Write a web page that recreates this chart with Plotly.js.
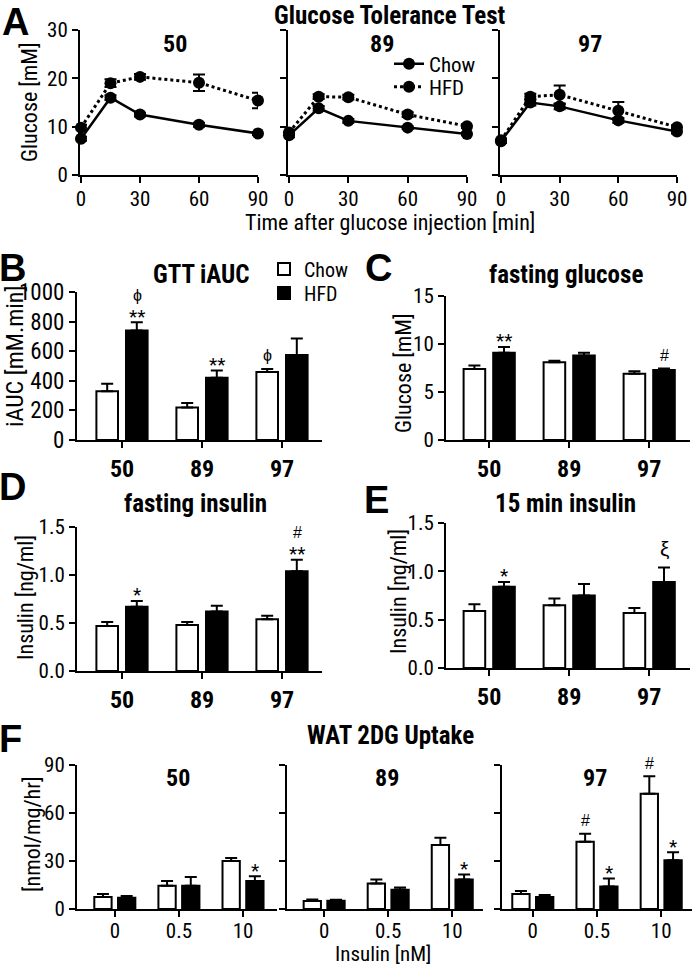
<!DOCTYPE html>
<html><head><meta charset="utf-8">
<script src="https://cdn.plot.ly/plotly-3.0.1.min.js"></script>
<style>html,body{margin:0;padding:0;background:#fff}#chart{width:693px;height:967px}</style>
</head><body><div id="chart"></div>
<script>
// ---------- DATA ----------
const gttTime = [0, 15, 30, 60, 90];
const gttChow50 = [7.5, 16.0, 12.5, 10.4, 8.6];
const gttChow50Err = [0.4, 0.5, 0.4, 0.4, 0.3];
const gttHFD50 = [9.8, 19.0, 20.3, 19.1, 15.4];
const gttHFD50Err = [0.6, 0.8, 0.6, 1.7, 1.6];
const gttChow89 = [8.2, 13.8, 11.2, 9.8, 8.5];
const gttChow89Err = [0.4, 0.5, 0.4, 0.3, 0.3];
const gttHFD89 = [8.8, 16.2, 16.1, 12.5, 10.1];
const gttHFD89Err = [0.4, 0.5, 0.5, 0.5, 0.4];
const gttChow97 = [7.0, 15.0, 14.2, 11.3, 9.0];
const gttChow97Err = [0.4, 0.6, 0.6, 0.5, 0.4];
const gttHFD97 = [7.2, 16.2, 16.6, 13.3, 9.9];
const gttHFD97Err = [0.4, 0.6, 1.9, 1.8, 0.4];

const strains = ['50', '89', '97'];
const iaucChow = [330, 220, 460];
const iaucChowErr = [50, 30, 20];
const iaucHFD = [740, 420, 575];
const iaucHFDErr = [55, 50, 110];

const fgChow = [7.4, 8.1, 6.9];
const fgChowErr = [0.35, 0.15, 0.25];
const fgHFD = [9.1, 8.8, 7.3];
const fgHFDErr = [0.6, 0.3, 0.15];

const fiChow = [0.47, 0.48, 0.54];
const fiChowErr = [0.04, 0.03, 0.035];
const fiHFD = [0.67, 0.62, 1.04];
const fiHFDErr = [0.06, 0.06, 0.12];

const i15Chow = [0.59, 0.65, 0.57];
const i15ChowErr = [0.07, 0.07, 0.05];
const i15HFD = [0.84, 0.75, 0.89];
const i15HFDErr = [0.05, 0.12, 0.15];

const insulinDoses = ['0', '0.5', '10'];
const wat50Chow = [7.5, 14.5, 30];
const wat50ChowErr = [1.8, 3, 1.8];
const wat50HFD = [7, 14.5, 17.5];
const wat50HFDErr = [1.2, 5.5, 3];
const wat89Chow = [5, 16, 40];
const wat89ChowErr = [1, 2.5, 4.5];
const wat89HFD = [5.2, 12, 18.5];
const wat89HFDErr = [0.6, 1.5, 3];
const wat97Chow = [9.4, 42, 72];
const wat97ChowErr = [1.8, 5, 11];
const wat97HFD = [7.5, 14, 30.5];
const wat97HFDErr = [1.2, 5, 5];

// significance marks: i = category index, s = 0 Chow / 1 HFD, lvl = stacking level
const sigB = [{i:0,s:1,t:'**',lvl:0},{i:0,s:1,t:'ϕ',lvl:1},{i:1,s:1,t:'**',lvl:0},{i:2,s:0,t:'ϕ',lvl:0}];
const sigC = [{i:0,s:1,t:'**',lvl:0},{i:2,s:1,t:'#',lvl:0}];
const sigD = [{i:0,s:1,t:'*',lvl:0},{i:2,s:1,t:'**',lvl:0},{i:2,s:1,t:'#',lvl:1}];
const sigE = [{i:0,s:1,t:'*',lvl:0},{i:2,s:1,t:'ξ',lvl:0}];
const sigF50 = [{i:2,s:1,t:'*',lvl:0}];
const sigF89 = [{i:2,s:1,t:'*',lvl:0}];
const sigF97 = [{i:1,s:0,t:'#',lvl:0},{i:1,s:1,t:'*',lvl:0},{i:2,s:0,t:'#',lvl:0},{i:2,s:1,t:'*',lvl:0}];

// ---------- LAYOUT HELPERS ----------
const W = 693, H = 967;
const FONT = 'Roboto Condensed, Roboto, Liberation Sans, Arial, sans-serif';
const dx = (a, b) => [a / W, b / W];
const dy = (top, bot) => [1 - bot / H, 1 - top / H];
const px = v => v / W, py = v => 1 - v / H;

function axis(extra) {
  return Object.assign({
    showline: true, linecolor: '#000', linewidth: 2,
    ticks: 'outside', ticklen: 6, tickwidth: 2, tickcolor: '#000',
    showgrid: false, zeroline: false, fixedrange: true,
    tickfont: {family: FONT, size: 21, color: '#000'}
  }, extra);
}

const traces = [];
function gttPair(xa, ya, chow, chowErr, hfd, hfdErr, legend) {
  traces.push({
    type: 'scatter', mode: 'lines+markers', x: gttTime, y: chow, name: 'Chow',
    xaxis: xa, yaxis: ya, showlegend: legend, legend: 'legend', cliponaxis: false,
    line: {color: '#000', width: 2.5}, marker: {color: '#000', size: 12},
    error_y: {type: 'data', array: chowErr, color: '#000', thickness: 2, width: 6}
  });
  traces.push({
    type: 'scatter', mode: 'lines+markers', x: gttTime, y: hfd, name: 'HFD',
    xaxis: xa, yaxis: ya, showlegend: legend, legend: 'legend3', cliponaxis: false,
    line: {color: '#000', width: 3, dash: 'dot'}, marker: {color: '#000', size: 12},
    error_y: {type: 'data', array: hfdErr, color: '#000', thickness: 2, width: 6}
  });
}
gttPair('x', 'y', gttChow50, gttChow50Err, gttHFD50, gttHFD50Err, true);
gttPair('x2', 'y2', gttChow89, gttChow89Err, gttHFD89, gttHFD89Err, false);
gttPair('x3', 'y3', gttChow97, gttChow97Err, gttHFD97, gttHFD97Err, false);

function barPair(xa, ya, cats, chow, chowErr, hfd, hfdErr, legend) {
  const zeros = cats.map(() => 0);
  traces.push({
    type: 'bar', x: cats, y: chow, name: 'Chow', xaxis: xa, yaxis: ya,
    showlegend: legend, legend: 'legend2',
    marker: {color: '#fff', line: {color: '#000', width: 2}},
    error_y: {type: 'data', array: chowErr, arrayminus: zeros, symmetric: false, color: '#000', thickness: 2, width: 6}
  });
  traces.push({
    type: 'bar', x: cats, y: hfd, name: 'HFD', xaxis: xa, yaxis: ya,
    showlegend: legend, legend: 'legend4',
    marker: {color: '#000', line: {color: '#000', width: 2}},
    error_y: {type: 'data', array: hfdErr, arrayminus: zeros, symmetric: false, color: '#000', thickness: 2, width: 6}
  });
}
barPair('x4', 'y4', strains, iaucChow, iaucChowErr, iaucHFD, iaucHFDErr, true);
barPair('x5', 'y5', strains, fgChow, fgChowErr, fgHFD, fgHFDErr, false);
barPair('x6', 'y6', strains, fiChow, fiChowErr, fiHFD, fiHFDErr, false);
barPair('x7', 'y7', strains, i15Chow, i15ChowErr, i15HFD, i15HFDErr, false);
barPair('x8', 'y8', insulinDoses, wat50Chow, wat50ChowErr, wat50HFD, wat50HFDErr, false);
barPair('x9', 'y9', insulinDoses, wat89Chow, wat89ChowErr, wat89HFD, wat89HFDErr, false);
barPair('x10', 'y10', insulinDoses, wat97Chow, wat97ChowErr, wat97HFD, wat97HFDErr, false);

const annotations = [];
function txt(x, y, text, size, bold, extra) {
  annotations.push(Object.assign({
    xref: 'paper', yref: 'paper', x: px(x), y: py(y), text: text, showarrow: false,
    xanchor: 'center', yanchor: 'middle',
    font: {family: FONT, size: size, color: '#000', weight: bold ? 'bold' : 'normal'}
  }, extra || {}));
}
function letter(x, y, t, anchor) {
  annotations.push({xref: 'paper', yref: 'paper', x: px(x), y: py(y), text: t, showarrow: false,
    xanchor: 'left', yanchor: anchor || 'middle', borderpad: 0,
    font: {family: 'Liberation Sans, Arial, sans-serif', size: 38, color: '#000', weight: 'bold'}});
}
function sig(list, xa, ya, chow, chowErr, hfd, hfdErr, off) {
  list.forEach(m => {
    const v = m.s ? hfd[m.i] + hfdErr[m.i] : chow[m.i] + chowErr[m.i];
    const isStar = m.t.indexOf('*') >= 0;
    const isXi = m.t === 'ξ';
    let shift = isStar ? 6 : (isXi ? 19 : 13);
    if (m.lvl) shift = 27;
    annotations.push({
      xref: xa, yref: ya, x: m.i + (m.s ? off : -off), y: v, text: m.t, showarrow: false,
      xanchor: 'center', yanchor: 'middle', yshift: shift,
      font: {family: isStar ? FONT : 'Liberation Sans, Arial, sans-serif', size: isStar ? 19 : (isXi ? 21 : 16), color: '#000'}
    });
  });
}

// titles
txt(390, 15, 'Glucose Tolerance Test', 25, true);
txt(175, 44, '50', 24, true);
txt(382, 44, '89', 24, true);
txt(590, 44, '97', 24, true);
txt(390, 223, 'Time after glucose injection [min]', 22, false);
txt(201, 275, 'GTT iAUC', 25, true);
txt(566, 275, 'fasting glucose', 25, true);
txt(195, 503, 'fasting insulin', 25, true);
txt(565, 503, '15 min insulin', 25, true);
txt(390, 735, 'WAT 2DG Uptake', 25, true);
txt(178, 778, '50', 24, true);
txt(387, 778, '89', 24, true);
txt(595, 778, '97', 24, true);
txt(383, 954, 'Insulin [nM]', 21, false);
// y titles
txt(29, 102, 'Glucose [mM]', 22, false, {textangle: -90});
txt(15, 356, 'iAUC [mM.min]', 24, false, {textangle: -90});
txt(403, 373, 'Glucose [mM]', 22, false, {textangle: -90});
txt(25, 598, 'Insulin [ng/ml]', 22, false, {textangle: -90});
txt(398, 592, 'Insulin [ng/ml]', 22, false, {textangle: -90});
txt(32, 835, '[nmol/mg/hr]', 22, false, {textangle: -90});
// panel letters
letter(1, 0, 'A', 'top');
letter(-2, 268, 'B');
letter(364, 268, 'C');
letter(-2, 487, 'D');
letter(363, 500, 'E');
letter(-2, 739, 'F');

const offB = 15 / 80, offF = 11.5 / 64;
sig(sigB, 'x4', 'y4', iaucChow, iaucChowErr, iaucHFD, iaucHFDErr, offB);
sig(sigC, 'x5', 'y5', fgChow, fgChowErr, fgHFD, fgHFDErr, offB);
sig(sigD, 'x6', 'y6', fiChow, fiChowErr, fiHFD, fiHFDErr, offB);
sig(sigE, 'x7', 'y7', i15Chow, i15ChowErr, i15HFD, i15HFDErr, offB);
sig(sigF50, 'x8', 'y8', wat50Chow, wat50ChowErr, wat50HFD, wat50HFDErr, offF);
sig(sigF89, 'x9', 'y9', wat89Chow, wat89ChowErr, wat89HFD, wat89HFDErr, offF);
sig(sigF97, 'x10', 'y10', wat97Chow, wat97ChowErr, wat97HFD, wat97HFDErr, offF);

const gttX = {range: [-0.5, 90], tickvals: [0, 30, 60, 90], ticklabelstandoff: -2};
const gttY = {range: [0, 30], tickvals: [0, 10, 20, 30]};
const catFont = {family: FONT, size: 24, color: '#000', weight: 'bold'};
function leg(x, y, size) {
  return {x: px(x), y: py(y), xanchor: 'left', yanchor: 'middle', bgcolor: 'rgba(0,0,0,0)',
    font: {family: FONT, size: size, color: '#000'}, itemwidth: 30, borderwidth: 0};
}

const layout = {
  width: W, height: H, margin: {l: 0, r: 0, t: 0, b: 0},
  paper_bgcolor: '#fff', plot_bgcolor: 'rgba(0,0,0,0)',
  barmode: 'group', bargap: 0.26, bargroupgap: 0.27,
  font: {family: FONT, color: '#000'},
  xaxis: axis(Object.assign({domain: dx(80, 258), anchor: 'y'}, gttX)),
  yaxis: axis(Object.assign({domain: dy(30, 175), anchor: 'x'}, gttY)),
  xaxis2: axis(Object.assign({domain: dx(288, 467), anchor: 'y2'}, gttX)),
  yaxis2: axis(Object.assign({domain: dy(30, 175), anchor: 'x2', showticklabels: false}, gttY)),
  xaxis3: axis(Object.assign({domain: dx(500, 677), anchor: 'y3'}, gttX)),
  yaxis3: axis(Object.assign({domain: dy(30, 175), anchor: 'x3', showticklabels: false}, gttY)),

  xaxis4: axis({domain: dx(77, 322), anchor: 'y4', type: 'category', range: [-0.5625, 2.5], tickfont: catFont}),
  yaxis4: axis({domain: dy(292, 440), anchor: 'x4', range: [0, 1000], dtick: 200,
    tickfont: {family: FONT, size: 23, color: '#000'}}),
  xaxis5: axis({domain: dx(446, 690), anchor: 'y5', type: 'category', range: [-0.54, 2.51], tickfont: catFont}),
  yaxis5: axis({domain: dy(296, 440), anchor: 'x5', range: [0, 15], dtick: 5}),
  xaxis6: axis({domain: dx(77, 322), anchor: 'y6', type: 'category', range: [-0.5625, 2.5], tickfont: catFont}),
  yaxis6: axis({domain: dy(527, 671), anchor: 'x6', range: [0, 1.5], dtick: 0.5, tickformat: '.1f'}),
  xaxis7: axis({domain: dx(446, 690), anchor: 'y7', type: 'category', range: [-0.54, 2.51], tickfont: catFont}),
  yaxis7: axis({domain: dy(523, 668), anchor: 'x7', range: [0, 1.5], dtick: 0.5, tickformat: '.1f'}),

  xaxis8: axis({domain: dx(77, 277), anchor: 'y8', type: 'category', range: [-0.59, 2.53], ticklabelstandoff: -4}),
  yaxis8: axis({domain: dy(765, 909), anchor: 'x8', range: [0, 90], dtick: 30}),
  xaxis9: axis({domain: dx(287, 483), anchor: 'y9', type: 'category', range: [-0.58, 2.48], ticklabelstandoff: -4}),
  yaxis9: axis({domain: dy(765, 909), anchor: 'x9', range: [0, 90], dtick: 30, showticklabels: false}),
  xaxis10: axis({domain: dx(502, 692), anchor: 'y10', type: 'category', range: [-0.48, 2.48], ticklabelstandoff: -4}),
  yaxis10: axis({domain: dy(765, 909), anchor: 'x10', range: [0, 90], dtick: 30, showticklabels: false}),

  legend: leg(389, 64, 21),
  legend3: leg(389, 87, 21),
  legend2: leg(264, 269, 20),
  legend4: leg(264, 293, 20),
  annotations: annotations,
  showlegend: true
};

Plotly.newPlot('chart', traces, layout, {staticPlot: true, displayModeBar: false});
</script></body></html>
